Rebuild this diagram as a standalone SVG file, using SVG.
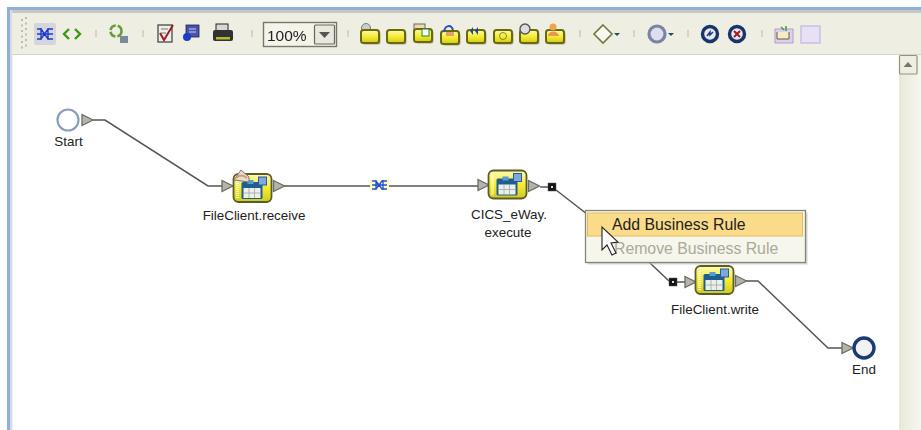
<svg xmlns="http://www.w3.org/2000/svg" width="921" height="430" viewBox="0 0 921 430" xmlns:xlink="http://www.w3.org/1999/xlink">
<style>
text{font-family:"Liberation Sans",Arial,sans-serif;fill:#222}
.lbl{font-size:13.4px;text-anchor:middle}
.conn{fill:none;stroke:#555;stroke-width:1.5}
.port{fill:#b4b4ac;stroke:#6c6c64;stroke-width:1.3}
.sq{fill:#151515;stroke:#555;stroke-width:.5}
.sep{stroke:#c4c4b8;stroke-width:1.2}
</style>
<defs>
<filter id="soft" x="-5%" y="-5%" width="110%" height="110%"><feGaussianBlur stdDeviation="0.45"/></filter>
<linearGradient id="y" x1="0" y1="0" x2="0" y2="1"><stop offset="0" stop-color="#fdfab0"/><stop offset=".55" stop-color="#f3ea2c"/><stop offset="1" stop-color="#cfc820"/></linearGradient>
<linearGradient id="bar" x1="0" y1="0" x2="1" y2="0"><stop offset="0" stop-color="#e8e8da"/><stop offset="1" stop-color="#f6f6ee"/></linearGradient>
<g id="f"><rect x="1.500" y="1.500" width="18" height="13" rx="2.500" fill="#a8a890"/><rect x="0" y="0" width="18" height="13" rx="2.500" fill="url(#y)" stroke="#6a6a10" stroke-width="2"/></g>
<g id="task">
<rect x="0" y="0" width="38" height="28" rx="5" fill="url(#y)" stroke="#5c5c28" stroke-width="1.800"/>
<path d="M4 5v19" stroke="#fff" stroke-width="3" stroke-dasharray="1 1" opacity=".8"/>
<rect x="8" y="8" width="21" height="17" rx="1.500" fill="#1f5f8f"/>
<rect x="10" y="14" width="17" height="10" fill="#eeeeea"/>
<path d="M15.500 14v10M21 14v10M10 19h17" stroke="#9aa8b0" stroke-width=".8"/>
<rect x="25" y="3" width="8" height="8" fill="#7fa8e0" stroke="#2a5a9a"/>
<rect x="14" y="6" width="6" height="4" fill="#5a9ad0"/>
</g>
<path id="tri" class="port" d="M0-5.500 11 0 0 5.500Z"/>
</defs>

<rect width="921" height="430" fill="#fff"/>
<rect x="7" y="7" width="914" height="3" fill="#8fb0dc"/>
<rect x="7" y="10" width="914" height="3" fill="#c6c8c0"/>
<rect x="7" y="7" width="3" height="423" fill="#8fb0dc"/>
<rect x="10" y="10" width="2.500" height="420" fill="#d8dce0"/>
<rect x="12.500" y="13" width="908.500" height="41" fill="#efeee2"/>
<path d="M12.500 54.500H921" stroke="#d4d4c4" stroke-width="1.200"/>

<g id="toolbar" filter="url(#soft)">
<path d="M22 19v30M26 17v30" stroke="#a8a89c" stroke-width="1.400" stroke-dasharray="2 3.500"/>
<rect x="34" y="23" width="22" height="22" rx="2" fill="#d4d6dc"/>
<g fill="none" stroke="#1c3ccc" stroke-width="1.400"><path d="M37 29h4l7 10h5M37 39h4l7-10h5M37 34h16M41 28v12M48 28v12"/></g>
<path d="M69 29l-5 5 5 5M75 29l5 5-5 5" fill="none" stroke="#3a9a1a" stroke-width="2.400"/>
<path class="sep" d="M96 30v7M143 30v7M252 30v7"/>
<circle cx="116" cy="31" r="5.500" fill="none" stroke="#6a9a3a" stroke-width="2.600" stroke-dasharray="7 2"/>
<rect x="120" y="36" width="8" height="7" fill="#7a8a9a"/>
<rect x="158" y="25" width="14" height="17" fill="#eeeeea" stroke="#555" stroke-width="1.400"/>
<path d="M161 29h7M161 33h5" stroke="#777"/>
<path d="M160 33l4 7 9-15" fill="none" stroke="#a01a20" stroke-width="2"/>
<rect x="186" y="25" width="13" height="12" fill="#4a52b4" stroke="#223" stroke-width=".8"/>
<path d="M189 29h7M189 32h7" stroke="#c8d0f0"/>
<circle cx="187" cy="37" r="4" fill="#1c3cc8"/>
<rect x="216" y="24" width="12" height="7" fill="#d8d8d8" stroke="#222"/>
<rect x="213" y="30" width="20" height="11" rx="2" fill="#333"/>
<rect x="216" y="37" width="14" height="2.500" fill="#b8b830"/>
<rect x="263.500" y="22.500" width="73" height="24" fill="#f4f4ea" stroke="#77776a" stroke-width="1.400"/>
<text x="267" y="41" style="font-size:15.500px">100%</text>
<rect x="314.500" y="25" width="20" height="19" rx="1" fill="#e8e8dc" stroke="#666" stroke-width="1.200"/>
<path d="M319 32h11l-5.500 6z" fill="#555"/>
<path class="sep" d="M348 30v7"/>
<circle cx="366" cy="28" r="4.500" fill="#ccc" stroke="#777"/>
<use xlink:href="#f" href="#f" x="361" y="30"/>
<use xlink:href="#f" href="#f" x="387" y="30"/>
<rect x="414" y="24" width="11" height="8" fill="#eed8b8" stroke="#666"/>
<use xlink:href="#f" href="#f" x="414" y="29"/>
<rect x="422" y="29" width="7" height="7" fill="#fff" stroke="#282"/>
<use xlink:href="#f" href="#f" x="441" y="31"/>
<path d="M444 32c1-7 7-8 9-2" fill="none" stroke="#2a50c0" stroke-width="2"/>
<rect x="446" y="32" width="8" height="4" fill="#e8a060"/>
<use xlink:href="#f" href="#f" x="467" y="30"/>
<path d="M473 27l-3 4 3 4zM478 27l-3 4 3 4z" fill="#1a4a8a"/>
<use xlink:href="#f" href="#f" x="494" y="30"/>
<circle cx="503" cy="36" r="3.500" fill="none" stroke="#8a8a28"/>
<use xlink:href="#f" href="#f" x="520" y="30"/>
<circle cx="525" cy="29" r="5" fill="#ddd" stroke="#555" stroke-width="1.400"/>
<use xlink:href="#f" href="#f" x="546" y="30"/>
<circle cx="553" cy="27" r="3.500" fill="#f0a050"/>
<path d="M548 36c0-6 10-6 11 0z" fill="#e89850"/>
<path class="sep" d="M580 30v7M634 30v7M688 30v7M762 30v7"/>
<path d="M603 25l9 9-9 9-9-9z" fill="#f8f8f0" stroke="#77773a" stroke-width="1.600"/>
<path d="M614 33h6l-3 3z" fill="#204a70"/>
<circle cx="657" cy="34" r="8" fill="#dde0ec" stroke="#7a84a8" stroke-width="3.200"/>
<path d="M668 33h6l-3 3z" fill="#204a70"/>
<circle cx="710" cy="34" r="7.500" fill="#e8e8f0" stroke="#18346a" stroke-width="3.400"/>
<path d="M707 36l3-4v3l3-3" fill="none" stroke="#1c3c7a" stroke-width="1.500"/>
<circle cx="737" cy="34" r="7.500" fill="#e8e8f0" stroke="#18346a" stroke-width="3.400"/>
<path d="M734 31l6 6M740 31l-6 6" stroke="#a01a20" stroke-width="2"/>
<rect x="775" y="29" width="18" height="14" fill="#dcd0ec" stroke="#b0a0d0"/>
<path d="M777 32v7h12v-7" fill="#f4ecc8" stroke="#6a5a30"/>
<path d="M781 27l3 3M786 26v5" stroke="#4a9a3a" stroke-width="1.500"/>
<rect x="801" y="26" width="19" height="17" fill="#e8e0f4" stroke="#c8bce0" stroke-width="1.400"/>
</g>

<g id="scrollbar">
<rect x="899" y="55" width="22" height="375" fill="url(#bar)"/>
<rect x="899.500" y="55.500" width="17.500" height="18.500" rx="1" fill="#eeeee2" stroke="#94947e" stroke-width="1.200"/>
<path d="M903.500 67h9l-4.500-5z" fill="#77776a"/>
</g>

<g id="connectors">
<path class="conn" d="M93 120H105L208 186H222"/>
<path class="conn" d="M284 186H478"/>
<path class="conn" d="M540 187H548"/>
<path class="conn" d="M556 190L650 263 669 281"/>
<path class="conn" d="M677 282H685"/>
<path class="conn" d="M746 281H758L828 348H842"/>
<g id="route-icon" transform="translate(371 180)" filter="url(#soft)">
<rect x="-1" y="-.5" width="19" height="11" fill="#fcfcb8"/>
<path d="M1 1h4l6 8h5M1 9h4l6-8h5M1 5h15M5 0v10M12 0v10" fill="none" stroke="#2050e0" stroke-width="1.300"/>
</g>
</g>

<g id="start"><circle cx="68" cy="120" r="10.500" fill="#fff" stroke="#8c9cc0" stroke-width="2.200"/><use xlink:href="#tri" href="#tri" x="82" y="120"/><text class="lbl" x="68.500" y="146">Start</text></g>
<g id="receive"><use xlink:href="#tri" href="#tri" x="222" y="186"/><use xlink:href="#task" href="#task" x="233.500" y="174"/>
<path d="M234 180l7-10 8 7v5z" fill="#e0ded4" stroke="#777"/><path d="M236 178q5-5 11 0" fill="none" stroke="#e09a58" stroke-width="2"/>
<use xlink:href="#tri" href="#tri" x="273.500" y="186"/><text class="lbl" x="254" y="220">FileClient.receive</text></g>
<g id="execute"><use xlink:href="#tri" href="#tri" x="478" y="185"/><use xlink:href="#task" href="#task" x="488.500" y="170.500"/><use xlink:href="#tri" href="#tri" x="528.500" y="186"/>
<rect class="sq" x="548" y="183" width="8" height="8"/><rect x="551" y="186" width="2" height="2" fill="#ddd"/>
<text class="lbl" x="509" y="219">CICS_eWay.</text><text class="lbl" x="508" y="237">execute</text></g>
<g id="write"><rect class="sq" x="669" y="278" width="8" height="8"/><rect x="672" y="281" width="2" height="2" fill="#ddd"/><use xlink:href="#tri" href="#tri" x="685" y="282"/><use xlink:href="#task" href="#task" x="695.500" y="266"/><use xlink:href="#tri" href="#tri" x="735.500" y="281"/><text class="lbl" x="715" y="314">FileClient.write</text></g>
<g id="end"><use xlink:href="#tri" href="#tri" x="842" y="348"/><circle cx="864" cy="348" r="10" fill="#f2f2f2" stroke="#1c3a74" stroke-width="3.400"/><text class="lbl" x="864" y="374">End</text></g>

<g id="menu">
<rect x="587.500" y="212.500" width="220" height="52" fill="#bbb" opacity=".6"/>
<rect x="585.500" y="210.500" width="220" height="52" fill="#f6f6ec" stroke="#85857a" stroke-width="1.300"/>
<rect x="587.500" y="213" width="215" height="23" fill="#fadb8a" stroke="#e0bc5c"/>
<text x="612" y="230" style="font-size:15.800px">Add Business Rule</text>
<text x="614" y="254" style="font-size:15.800px;fill:#aaaa98">Remove Business Rule</text>
<path d="M602 227v23l5-5 5 10 4-2-5-10 7-1z" fill="#fff" stroke="#222" stroke-width="1.100"/>
</g>
</svg>
